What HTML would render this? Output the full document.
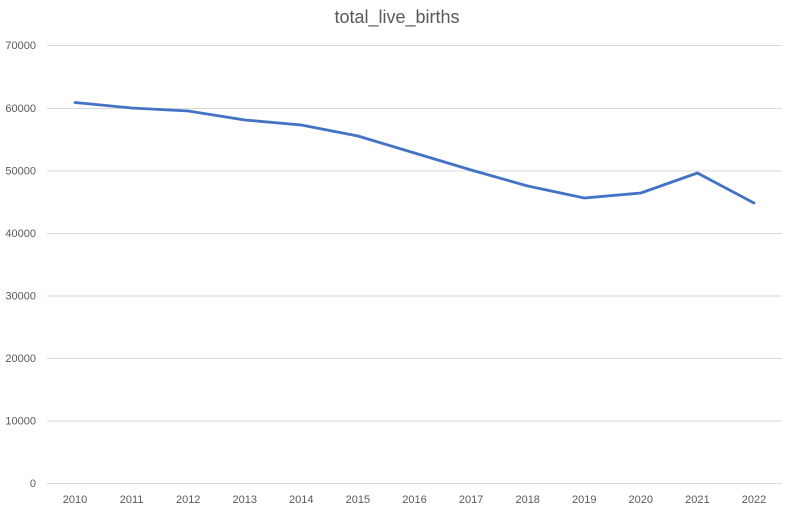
<!DOCTYPE html>
<html><head><meta charset="utf-8"><style>
html,body{margin:0;padding:0;background:#fff;}
svg{display:block;font-family:"Liberation Sans",sans-serif;}
</style></head><body>
<svg width="794" height="514" viewBox="0 0 794 514">
<rect width="794" height="514" fill="#fff"/>
<text x="397" y="23" text-anchor="middle" font-size="18" fill="#595959">total_live_births</text>
<g stroke="#d9d9d9" stroke-width="1">
<line x1="47" x2="782" y1="45.5" y2="45.5"/>
<line x1="47" x2="782" y1="108.5" y2="108.5"/>
<line x1="47" x2="782" y1="171" y2="171"/>
<line x1="47" x2="782" y1="233.5" y2="233.5"/>
<line x1="47" x2="782" y1="296" y2="296"/>
<line x1="47" x2="782" y1="358.5" y2="358.5"/>
<line x1="47" x2="782" y1="421" y2="421"/>
<line x1="47" x2="782" y1="483.5" y2="483.5"/>
</g>
<g font-size="11" fill="#595959" text-anchor="end">
<text x="36" y="49">70000</text>
<text x="36" y="112">60000</text>
<text x="36" y="174.5">50000</text>
<text x="36" y="237">40000</text>
<text x="36" y="299.5">30000</text>
<text x="36" y="362">20000</text>
<text x="36" y="424.5">10000</text>
<text x="36" y="487">0</text>
</g>
<g font-size="11" fill="#595959" text-anchor="middle">
<text x="75" y="503">2010</text><text x="131.6" y="503">2011</text><text x="188.2" y="503">2012</text><text x="244.8" y="503">2013</text><text x="301.3" y="503">2014</text><text x="357.9" y="503">2015</text><text x="414.5" y="503">2016</text><text x="471.1" y="503">2017</text><text x="527.7" y="503">2018</text><text x="584.3" y="503">2019</text><text x="640.8" y="503">2020</text><text x="697.4" y="503">2021</text><text x="754" y="503">2022</text>
</g>
<polyline fill="none" stroke="#4472c4" stroke-width="2.8" stroke-linejoin="round" stroke-linecap="round"
points="75,102.5 131.6,108 188.2,111 244.8,120 301.3,125 357.9,136 414.5,153 471.1,170 527.7,186 584.3,198 640.8,193 697.4,173 754,203"/>
</svg>
</body></html>
